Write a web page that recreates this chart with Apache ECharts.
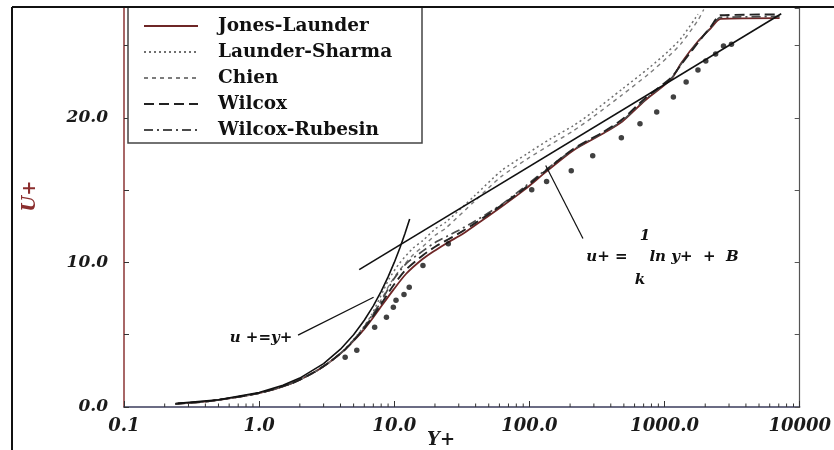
<!DOCTYPE html>
<html>
<head>
<meta charset="utf-8">
<script src="https://cdn.jsdelivr.net/npm/echarts@6/dist/echarts.min.js"></script>
<style>
  html, body { margin: 0; padding: 0; background: #ffffff; }
  #chart { width: 834px; height: 450px; }
</style>
</head>
<body>
<div id="chart"></div>
<script>
// Mean velocity profiles in wall units: U+ against Y+ (log scale)

const legendNames = ['Jones-Launder', 'Launder-Sharma', 'Chien', 'Wilcox', 'Wilcox-Rubesin'];

// [Y+, U+] pairs for each low-Reynolds-number model
const jonesLaunder = [
  [0.24, 0.22], [0.43, 0.41], [1.0, 0.96], [1.72, 1.62], [2.57, 2.42], [3.37, 3.15],
  [4.26, 3.92], [5.03, 4.6], [5.95, 5.35], [6.81, 6.05], [7.78, 6.8], [9.84, 8.1],
  [12.2, 9.2], [16.3, 10.25], [20.2, 10.85], [25.1, 11.4], [31.8, 11.95], [39.4, 12.55],
  [62.1, 13.85], [91.2, 15.0], [134, 16.3], [211, 17.75], [348, 18.9], [487, 19.75],
  [716, 21.2], [1125, 22.7], [1330, 23.8], [1767, 25.3], [2196, 26.2], [2600, 26.85],
  [7100, 26.9]
];
const launderSharma = [
  [0.24, 0.22], [0.43, 0.41], [1.0, 0.96], [1.72, 1.62], [2.57, 2.42], [3.37, 3.15],
  [4.26, 3.95], [5.03, 4.7], [5.95, 5.55], [6.81, 6.4], [8.32, 8.07], [9.2, 8.9],
  [10.9, 9.93], [13.7, 10.97], [16.3, 11.52], [20.2, 12.34], [23.9, 12.76], [39.4, 14.62],
  [62.1, 16.34], [96, 17.52], [143, 18.55], [211, 19.45], [294, 20.4], [487, 22.0],
  [766, 23.45], [1069, 24.62], [1330, 25.52], [1767, 27.17]
];
const chien = [
  [0.24, 0.22], [0.43, 0.41], [1.0, 0.96], [1.72, 1.62], [2.57, 2.42], [3.37, 3.15],
  [4.26, 3.93], [5.03, 4.65], [5.95, 5.45], [6.81, 6.25], [8.32, 7.7], [9.2, 8.45],
  [10.9, 9.45], [13.7, 10.5], [16.3, 11.1], [20.2, 11.9], [23.9, 12.35], [39.4, 14.25],
  [62.1, 15.95], [96, 17.15], [143, 18.15], [211, 19.1], [294, 20.05], [487, 21.6],
  [766, 23.05], [1069, 24.25], [1330, 25.15], [1767, 26.75], [1950, 27.5]
];
const wilcox = [
  [0.24, 0.22], [0.43, 0.41], [1.0, 0.96], [1.72, 1.62], [2.57, 2.42], [3.37, 3.15],
  [4.26, 3.92], [5.03, 4.62], [5.95, 5.4], [6.81, 6.15], [7.78, 6.95], [9.84, 8.4],
  [12.2, 9.5], [16.3, 10.5], [20.2, 11.1], [25.1, 11.6], [31.8, 12.15], [39.4, 12.7],
  [62.1, 13.95], [91.2, 15.1], [134, 16.4], [211, 17.85], [348, 19.0], [487, 19.9],
  [716, 21.35], [1125, 22.8], [1330, 23.7], [1767, 25.2], [2196, 26.3], [2600, 27.1],
  [7100, 27.15]
];
const wilcoxRubesin = [
  [0.24, 0.22], [0.43, 0.41], [1.0, 0.96], [1.72, 1.62], [2.57, 2.42], [3.37, 3.15],
  [4.26, 3.94], [5.03, 4.66], [5.95, 5.5], [6.81, 6.3], [7.78, 7.1], [9.84, 8.8],
  [12.2, 9.9], [16.3, 10.8], [20.2, 11.4], [25.1, 11.85], [31.8, 12.35], [39.4, 12.85],
  [62.1, 14.0], [91.2, 15.2], [134, 16.45], [211, 17.8], [348, 18.95], [487, 19.8],
  [716, 21.25], [1125, 22.75], [1330, 23.75], [1767, 25.25], [2196, 26.25], [2600, 26.95],
  [7100, 27.0]
];

// Measured profile (symbols)
const measured = [
  [4.33, 3.45], [5.28, 3.93], [7.16, 5.52], [8.75, 6.21], [9.84, 6.9], [10.3, 7.38],
  [11.8, 7.79], [12.9, 8.28], [16.3, 9.79], [25.1, 11.3], [104, 15.03], [134, 15.59],
  [204, 16.34], [294, 17.38], [479, 18.62], [658, 19.59], [875, 20.41], [1162, 21.45],
  [1445, 22.48], [1767, 23.31], [2019, 23.93], [2388, 24.41], [2731, 24.97], [3126, 25.1]
];

// Reference laws
const logLaw = [[5.5, 9.5], [7300, 27.2]];
const linearSublayer = [
  [0.25, 0.25], [0.5, 0.5], [1, 1], [1.5, 1.5], [2, 2], [3, 3], [4, 4], [5, 5],
  [6, 6], [7, 7], [8, 8], [9, 9], [10, 10], [11, 11], [12, 12], [13, 13]
];

// Leader lines from the annotations to the curves
const sublayerLeader = [[1.94, 4.97], [7.03, 7.59]];
const logLawLeader = [[132, 16.7], [249, 11.66]];

// Axis ticks and labels
const xTickValues = [0.1, 1, 10, 100, 1000, 10000];
const xTickText = ['0.1', '1.0', '10.0', '100.0', '1000.0', '10000'];
const yTickValues = [0, 10, 20];
const yTickText = ['0.0', '10.0', '20.0'];
const xMinorTicks = [
  0.2, 0.3, 0.4, 0.5, 0.6, 0.7, 0.8, 0.9,
  2, 3, 4, 5, 6, 7, 8, 9,
  20, 30, 40, 50, 60, 70, 80, 90,
  200, 300, 400, 500, 600, 700, 800, 900,
  2000, 3000, 4000, 5000, 6000, 7000, 8000, 9000
];

const SERIF = '"DejaVu Serif", "Liberation Serif", serif';
const GRID = { left: 124, right: 23, top: 8, bottom: 43 };

function xLabel(v) {
  let best = 0, bestD = Infinity;
  xTickValues.forEach(function (t, i) {
    const d = Math.abs(Math.log10(v) - Math.log10(t));
    if (d < bestD) { bestD = d; best = i; }
  });
  return bestD < 0.01 ? xTickText[best] : '';
}
function yLabel(v) {
  const i = yTickValues.indexOf(Math.round(v * 100) / 100);
  return i >= 0 ? yTickText[i] : '';
}

function modelSeries(name, data, color, dash, width, z) {
  return {
    name: name, type: 'line', data: data, symbol: 'none', smooth: 0.25,
    silent: true, z: z,
    lineStyle: { color: color, width: width, type: dash },
    itemStyle: { color: color }
  };
}
function plainLine(data, width) {
  return {
    type: 'line', data: data, symbol: 'none', silent: true, z: 4,
    lineStyle: { color: '#111', width: width, type: 'solid' }
  };
}

const chart = echarts.init(document.getElementById('chart'), null, { renderer: 'canvas' });

chart.setOption({
  backgroundColor: '#ffffff',
  animation: false,
  grid: GRID,
  legend: {
    data: legendNames,
    orient: 'vertical',
    left: 128, top: 7,
    padding: [9.5, 10, 10, 15],
    itemWidth: 54, itemHeight: 14, itemGap: 7,
    selectedMode: false,
    itemStyle: { opacity: 0 },
    textStyle: {
      fontFamily: SERIF, fontWeight: 'bold', fontSize: 18.5,
      color: '#111', padding: [0, 0, 0, 15]
    }
  },
  xAxis: {
    type: 'log', logBase: 10, min: 0.1, max: 10000,
    axisLine: { show: true, lineStyle: { color: '#3b3d5c', width: 1.5 } },
    axisTick: { show: true, inside: true, length: 6, lineStyle: { color: '#333' } },
    splitLine: { show: false },
    axisLabel: {
      formatter: xLabel, margin: 10, showMinLabel: true, showMaxLabel: true,
      fontFamily: SERIF, fontWeight: 'bold', fontStyle: 'italic', fontSize: 18, color: '#1a1a1a'
    }
  },
  yAxis: [{
    type: 'value', min: 0, max: 27.6, interval: 5,
    axisLine: { show: true, lineStyle: { color: '#8b3434', width: 1.5 } },
    axisTick: { show: true, inside: true, length: 5, lineStyle: { color: '#333' } },
    splitLine: { show: false },
    axisLabel: {
      formatter: yLabel, margin: 16, showMaxLabel: false,
      fontFamily: SERIF, fontWeight: 'bold', fontStyle: 'italic', fontSize: 17, color: '#1a1a1a'
    }
  }, {
    type: 'value', min: 0, max: 27.6, interval: 5, position: 'right',
    axisLine: { show: true, lineStyle: { color: '#555', width: 1.2 } },
    axisTick: { show: true, inside: true, length: 5, lineStyle: { color: '#555' } },
    axisLabel: { show: false },
    splitLine: { show: false }
  }],
  graphic: [
    { type: 'line', shape: { x1: 12, y1: 7, x2: 834, y2: 7 }, style: { stroke: '#111', lineWidth: 2 }, z: 10 },
    { type: 'line', shape: { x1: 12, y1: 7, x2: 12, y2: 450 }, style: { stroke: '#111', lineWidth: 2 }, z: 10 },
    { type: 'rect', shape: { x: 128, y: 7, width: 294, height: 136 },
      style: { fill: '#ffffff', stroke: '#444', lineWidth: 1.5 }, z: 3 },
    { type: 'text', x: 30, y: 196, rotation: Math.PI / 2,
      style: { text: 'U+', fontFamily: SERIF, fontWeight: 'bold', fontStyle: 'italic', fontSize: 18,
               fill: '#8b2e2e', align: 'center', verticalAlign: 'middle' } },
    { type: 'text', x: 441, y: 440,
      style: { text: 'Y+', fontFamily: SERIF, fontWeight: 'bold', fontStyle: 'italic', fontSize: 18,
               fill: '#1a1a1a', align: 'center', verticalAlign: 'middle' } },
    { type: 'text', x: 261, y: 338,
      style: { text: 'u +=y+', fontFamily: SERIF, fontWeight: 'bold', fontStyle: 'italic', fontSize: 15,
               fill: '#111', align: 'center', verticalAlign: 'middle' } },
    { type: 'text', x: 607, y: 257,
      style: { text: 'u+ =', fontFamily: SERIF, fontWeight: 'bold', fontStyle: 'italic', fontSize: 15,
               fill: '#111', align: 'center', verticalAlign: 'middle' } },
    { type: 'text', x: 645, y: 236,
      style: { text: '1', fontFamily: SERIF, fontWeight: 'bold', fontStyle: 'italic', fontSize: 15,
               fill: '#111', align: 'center', verticalAlign: 'middle' } },
    { type: 'text', x: 694, y: 257,
      style: { text: 'ln y+  +  B', fontFamily: SERIF, fontWeight: 'bold', fontStyle: 'italic', fontSize: 15,
               fill: '#111', align: 'center', verticalAlign: 'middle' } },
    { type: 'text', x: 640, y: 280,
      style: { text: 'k', fontFamily: SERIF, fontWeight: 'bold', fontStyle: 'italic', fontSize: 15,
               fill: '#111', align: 'center', verticalAlign: 'middle' } }
  ],
  series: [
    modelSeries('Jones-Launder', jonesLaunder, '#6e2626', 'solid', 1.8, 3),
    modelSeries('Launder-Sharma', launderSharma, '#6f6f6f', [2, 3], 1.5, 3),
    modelSeries('Chien', chien, '#7c7c7c', [4, 4], 1.4, 3),
    modelSeries('Wilcox', wilcox, '#222222', [10, 5], 1.9, 3.2),
    modelSeries('Wilcox-Rubesin', wilcoxRubesin, '#4a4a4a', [9, 4, 2, 4], 1.7, 3.1),
    plainLine(logLaw, 1.6),
    plainLine(linearSublayer, 1.6),
    plainLine(sublayerLeader, 1.2),
    plainLine(logLawLeader, 1.2),
    {
      type: 'scatter', data: measured, symbol: 'circle', symbolSize: 5.5, silent: true, z: 5,
      itemStyle: { color: '#111' }
    },
    {
      type: 'custom', silent: true, z: 6,
      data: xMinorTicks.map(function (v) { return [v, 0]; }),
      renderItem: function (params, api) {
        const p = api.coord([api.value(0), 0]);
        return {
          type: 'line',
          shape: { x1: p[0], y1: p[1], x2: p[0], y2: p[1] - 3.5 },
          style: { stroke: '#333', lineWidth: 1 }
        };
      }
    }
  ]
});
</script>
</body>
</html>
